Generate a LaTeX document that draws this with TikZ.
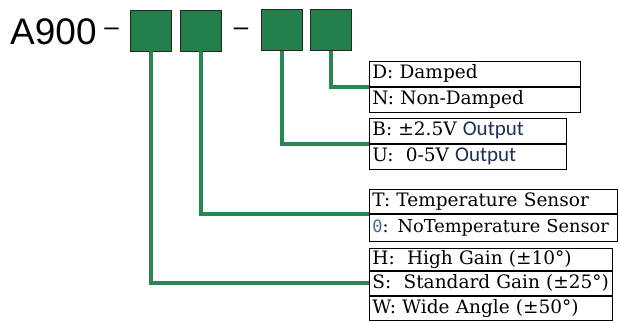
\documentclass[tikz,border=0pt]{standalone}
\usepackage{fontspec}
\usepackage{xcolor}
\usetikzlibrary{positioning}
\setmainfont{DejaVu Serif}
\newfontfamily\partfont{Liberation Sans}
\newfontfamily\outfont{Carlito}
\newfontfamily\zerofont{DejaVu Sans Mono}
\definecolor{codegreen}{RGB}{35,128,77}
\definecolor{linkgreen}{RGB}{40,136,82}
\definecolor{outblue}{RGB}{30,45,90}
\definecolor{zeroblue}{RGB}{70,105,150}
\newcommand{\outp}{{\outfont\fontsize{21}{24}\selectfont\color{outblue}Output}}

\begin{document}
\begin{tikzpicture}[
  x=1pt, y=-1pt,
  font=\fontsize{18.5}{24}\selectfont,
  code/.style={draw=black!85, fill=codegreen, line width=0.8pt, minimum width=41pt, minimum height=41pt, inner sep=0pt},
  opt/.style={draw, line width=0.8pt, anchor=north west, text width=#1, align=left, inner xsep=3pt, inner ysep=0pt, minimum height=25pt, text height=15pt, text depth=5pt},
  link/.style={draw=linkgreen, line width=4pt},
  hyph/.style={inner sep=0pt, font=\partfont\fontsize{26}{26}\selectfont}
]
\useasboundingbox (0,0) rectangle (619,321);
% part number
\node[anchor=base west, inner sep=0pt, font=\partfont\fontsize{37}{37}\selectfont] (pn) at (10,45) {A900};
\node[hyph] (h1) at (111.5,32) {–};
\node[hyph] (h2) at (241,32) {–};
\node[code] (c1) at (151,30.5) {};
\node[code] (c2) at (200.5,30.5) {};
\node[code] (c3) at (282,30) {};
\node[code] (c4) at (330.5,30) {};
% option tables
\node[opt=205pt] (d) at (369,61) {D: Damped};
\node[opt=205pt, below=0pt of d] (n) {N: Non-Damped};
\node[opt=191pt] (b) at (369,118) {B: ±2.5V \outp};
\node[opt=191pt, below=0pt of b] (u) {U: \ 0-5V \outp};
\node[opt=242pt, minimum height=24pt] (t) at (369,189) {T: Temperature Sensor};
\node[opt=242pt, minimum height=27pt, below=0pt of t, font=\fontsize{17.8}{24}\selectfont] (z) {\mbox{{\zerofont\fontsize{17}{17}\selectfont\color{zeroblue}0}: NoTemperature Sensor}};
\node[opt=237pt, minimum height=22pt] (hg) at (369,248) {H: \ High Gain (±10°)};
\node[opt=237pt, minimum height=24pt, below=0pt of hg] (s) {S: \ Standard Gain (±25°)};
\node[opt=237pt, minimum height=24pt, below=0pt of s] (w) {W: Wide Angle (±50°)};
% connectors
\draw[link] (c4.south) |- (d.south west);
\draw[link] (c3.south) |- (b.south west);
\draw[link] (c2.south) |- (t.south west);
\draw[link] (c1.south) |- (s.west);
\end{tikzpicture}
\end{document}
